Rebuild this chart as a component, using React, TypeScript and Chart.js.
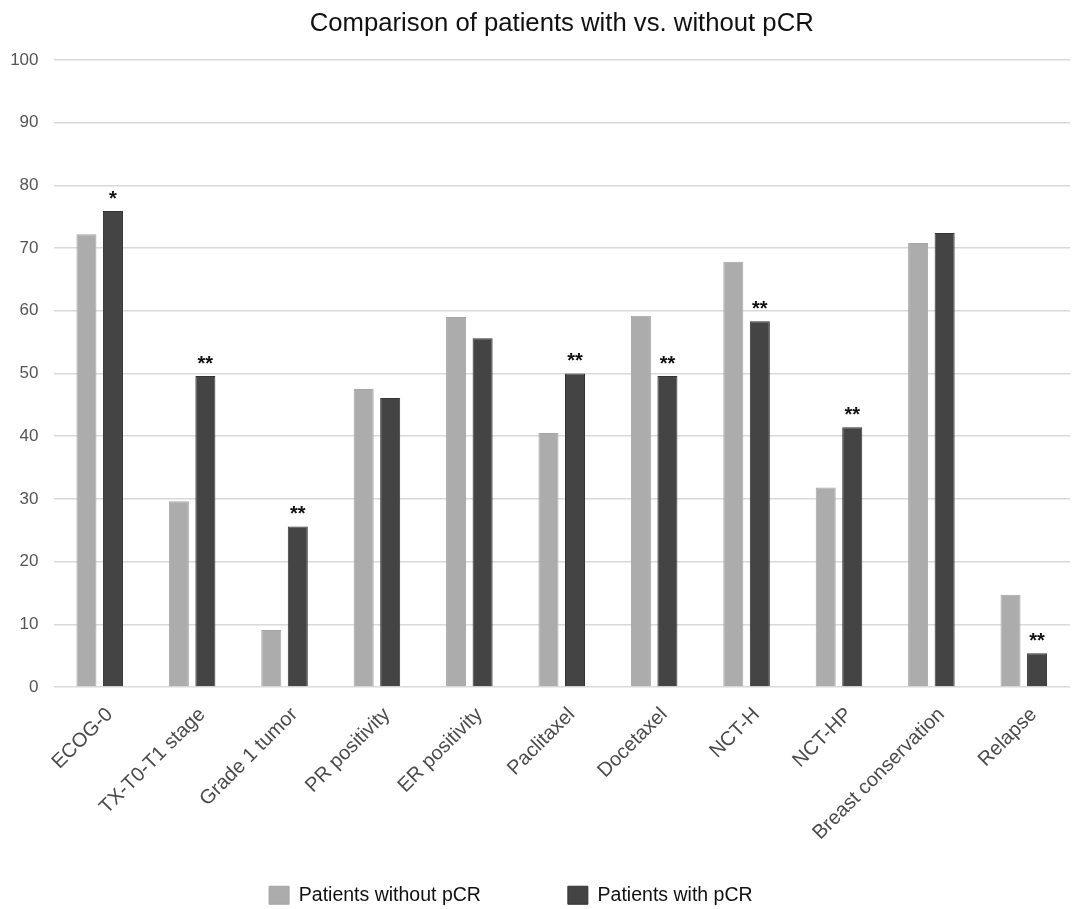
import React, { useEffect, useRef } from "react";
import { Chart, registerables } from "chart.js";

Chart.register(...registerables);

const categories = [
  "ECOG-0",
  "TX-T0-T1 stage",
  "Grade 1 tumor",
  "PR positivity",
  "ER positivity",
  "Paclitaxel",
  "Docetaxel",
  "NCT-H",
  "NCT-HP",
  "Breast conservation",
  "Relapse",
];

const withoutPCR = [72.2, 29.6, 9.1, 47.5, 59.0, 40.5, 59.2, 67.8, 31.8, 70.8, 14.7];
const withPCR = [75.9, 49.6, 25.6, 46.1, 55.6, 50.0, 49.6, 58.3, 41.4, 72.4, 5.4];
const significance = ["*", "**", "**", "", "", "**", "**", "**", "**", "", "**"];

const titleText = "Comparison of patients with vs. without pCR";
const seriesNames = ["Patients without pCR", "Patients with pCR"];
const seriesColors = ["#acacac", "#444444"];
const seriesBorders = ["#a4a4a4", "#333333"];
const yTicks = [0, 10, 20, 30, 40, 50, 60, 70, 80, 90, 100];

const FONT = "'Liberation Sans', Arial, Helvetica, sans-serif";

const starPlugin = {
  id: "significanceStars",
  afterDatasetsDraw(chart: any) {
    const meta = chart.getDatasetMeta(1);
    const ctx = chart.ctx;
    ctx.save();
    ctx.fillStyle = "#111111";
    ctx.font = `bold 20px ${FONT}`;
    ctx.textAlign = "center";
    ctx.textBaseline = "alphabetic";
    meta.data.forEach((bar: any, i: number) => {
      const s = significance[i];
      if (!s) return;
      ctx.fillText(s, bar.x, bar.y - 6);
    });
    ctx.restore();
  },
};

const makeSpacer = () =>
  ({
    text: "",
    fillStyle: "rgba(0,0,0,0)",
    strokeStyle: "rgba(0,0,0,0)",
    lineWidth: 0,
    hidden: false,
    datasetIndex: -1,
  }) as any;

export default function App() {
  const canvasRef = useRef<HTMLCanvasElement | null>(null);

  useEffect(() => {
    if (!canvasRef.current) return;
    const chart = new Chart(canvasRef.current, {
      type: "bar",
      data: {
        labels: categories,
        datasets: seriesNames.map((name, i) => ({
          label: name,
          data: i === 0 ? withoutPCR : withPCR,
          backgroundColor: seriesColors[i],
          borderColor: seriesBorders[i],
          borderWidth: 1,
          categoryPercentage: 0.574,
          barPercentage: 0.755,
        })),
      },
      options: {
        animation: false,
        responsive: true,
        maintainAspectRatio: false,
        layout: { padding: { left: 10, right: 10, top: 0, bottom: 0 } },
        plugins: {
          title: {
            display: true,
            text: titleText,
            fullSize: false,
            color: "#111111",
            font: { family: FONT, size: 25.7, weight: "normal" },
            padding: { top: 8, bottom: 21 },
          },
          legend: {
            position: "bottom",
            labels: {
              color: "#111111",
              font: { family: FONT, size: 19.5 },
              boxWidth: 20,
              boxHeight: 18,
              padding: 28.6,
              generateLabels: (chart: any) => {
                const items = Chart.defaults.plugins.legend.labels.generateLabels(chart);
                return [items[0], makeSpacer(), items[1], makeSpacer()];
              },
            },
            onClick: () => {},
          },
          tooltip: { enabled: false },
        },
        scales: {
          x: {
            grid: { display: false, drawTicks: false },
            border: { display: false },
            ticks: {
              autoSkip: false,
              minRotation: 45,
              maxRotation: 45,
              color: "#4a4a4a",
              font: { family: FONT, size: 20 },
              padding: 16,
              labelOffset: 10,
            },
            afterFit: (scale: any) => {
              scale.height = 169.9;
            },
          },
          y: {
            min: 0,
            max: 100,
            afterBuildTicks: (scale: any) => {
              scale.ticks = yTicks.map((v) => ({ value: v }));
            },
            afterFit: (scale: any) => {
              scale.width = 43.5;
            },
            grid: { color: "#d9d9d9", lineWidth: 1.5, drawTicks: false },
            border: { display: false },
            ticks: {
              color: "#555555",
              font: { family: FONT, size: 17 },
              padding: 15,
            },
          },
        },
      },
      plugins: [starPlugin],
    });
    return () => chart.destroy();
  }, []);

  return (
    <div
      style={{
        position: "fixed",
        left: 0,
        top: 0,
        width: 1080,
        height: 915,
        background: "#ffffff",
      }}
    >
      <canvas ref={canvasRef} />
    </div>
  );
}
